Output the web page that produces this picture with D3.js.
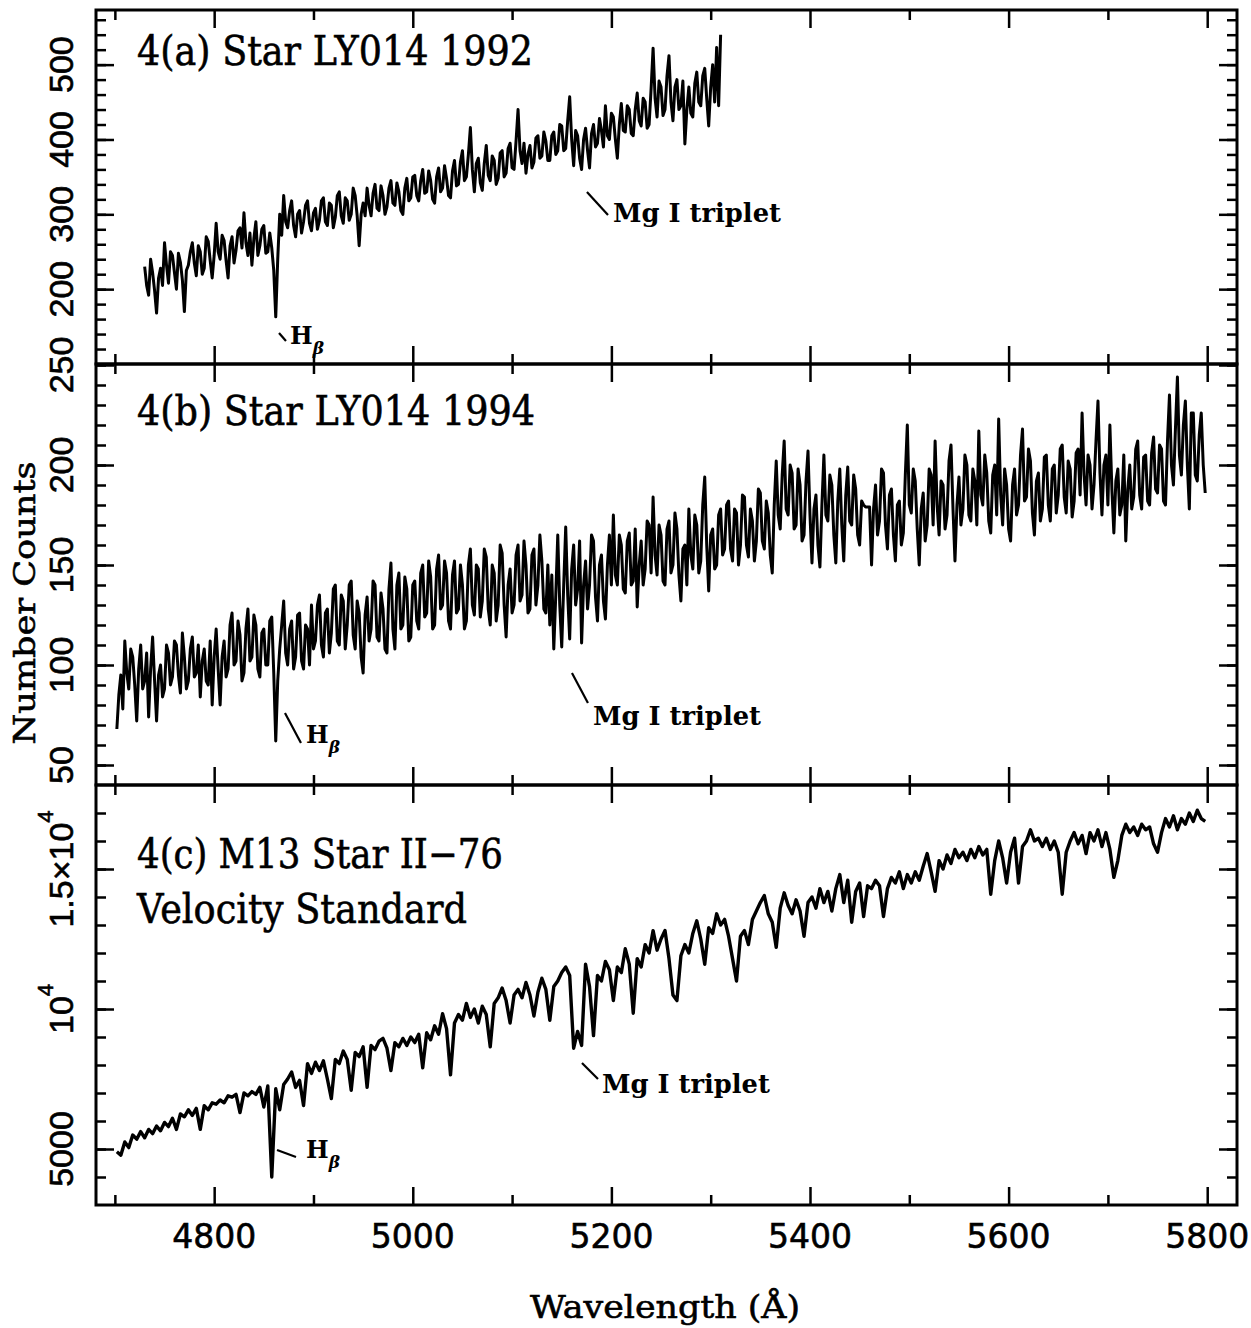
<!DOCTYPE html>
<html>
<head>
<meta charset="utf-8">
<script src="https://cdn.jsdelivr.net/npm/d3@7"></script>
<style>
  body { margin: 0; background: #fff; }
</style>
</head>
<body>
<div id="chart"></div>
<script>
// 4(a) LY014 1992, counts in 2 A bins starting at 4730 A
const startA = 4730;
const stepA = 2;
const countsA = [
  230, 205, 192, 240, 222, 198, 168, 215, 228, 205, 262, 232, 208, 250, 245, 222, 200, 248, 236, 212,
  170, 225, 232, 250, 262, 235, 218, 258, 250, 220, 228, 270, 264, 238, 215, 245,
  288, 250, 240, 272, 265, 238, 215, 258, 270, 235, 252, 278, 282, 255, 302, 262, 245, 275, 232, 268,
  290, 245, 258, 280, 285, 248, 250, 275, 255, 225, 163, 240, 300, 272, 325, 290, 282, 305, 318, 285,
  270, 300, 305, 275, 290, 312, 318, 288, 278, 302,
  308, 280, 292, 318, 322, 290, 285, 315, 312, 282, 296, 325, 330, 298, 288, 322, 318, 292, 300, 335,
  325, 298, 258, 300, 315, 298, 335, 312, 298, 328, 340, 308, 305, 338, 325, 300, 310, 335, 345, 315,
  312, 342, 330, 305, 300, 335, 348, 318, 322, 350,
  352, 325, 318, 345, 360, 328, 330, 358, 345, 320, 315, 350, 362, 330, 335, 365, 348, 325, 322, 358,
  372, 338, 340, 370, 385, 345, 350, 380, 416, 360, 330, 368, 375, 342, 332, 368, 392, 352, 345, 378,
  372, 340, 348, 382, 385, 350, 355, 388, 395, 362,
  360, 398, 440, 385, 368, 395, 355, 380, 392, 362, 370, 402, 405, 375, 378, 410, 398, 372, 372, 405,
  410, 380, 385, 420, 418, 385, 388, 425, 457, 400, 365, 412, 405, 375, 360, 400, 415, 385, 362, 408,
  420, 390, 395, 428, 412, 390, 445, 405, 400, 435,
  430, 400, 375, 420, 448, 412, 410, 445, 440, 408, 405, 440, 462, 425, 418, 455, 450, 415, 420, 468,
  522, 455, 430, 478, 470, 432, 440, 485, 512, 450, 425, 470, 480, 440, 445, 478, 394, 440, 470, 435,
  430, 475, 490, 450, 445, 485, 495, 455, 418, 470, 500, 450, 523, 445, 540
];

// 4(b) LY014 1994, 2 A bins starting at 4702 A
const startB = 4702;
const stepB = 2;
const countsB = [
  68, 85, 95, 78, 112, 96, 88, 108, 104, 90, 72, 98, 110, 88, 92, 106, 74, 98, 114, 92,
  72, 95, 100, 84, 88, 110, 106, 90, 94, 112, 110, 95, 86, 116, 104, 88, 92, 108, 114, 94,
  96, 110, 84, 102, 108, 92, 90, 112, 80, 104,
  118, 98, 80, 104, 112, 94, 98, 120, 126, 100, 102, 122, 115, 92, 96, 118, 128, 102, 104, 125,
  120, 98, 94, 116, 118, 100, 100, 122, 124, 96, 62, 92, 108, 120, 132, 106, 100, 118, 122, 98,
  104, 125, 126, 102, 98, 120, 118, 100, 130, 108,
  112, 130, 135, 110, 104, 126, 128, 106, 116, 138, 140, 112, 110, 135, 132, 108, 120, 140, 142, 115,
  108, 132, 126, 104, 96, 125, 134, 112, 118, 142, 140, 114, 112, 136, 128, 108, 106, 138, 151, 118,
  108, 140, 146, 118, 120, 144, 138, 112, 114, 140,
  142, 122, 118, 146, 150, 124, 126, 152, 144, 118, 120, 148, 155, 128, 130, 152, 146, 122, 118, 145,
  152, 126, 128, 150, 140, 118, 122, 150, 158, 130, 125, 150, 148, 124, 132, 158, 154, 128, 120, 150,
  146, 122, 130, 160, 156, 130, 114, 140, 148, 126,
  130, 155, 160, 132, 135, 162, 150, 126, 128, 155, 158, 130, 140, 165, 152, 128, 126, 150, 120, 145,
  108, 135, 165, 130, 109, 140, 169, 135, 113, 148, 160, 130, 138, 162, 111, 140, 152, 128, 140, 165,
  162, 134, 122, 150, 155, 132, 123, 150, 165, 140,
  175, 145, 140, 165, 160, 138, 136, 162, 166, 140, 142, 168, 129, 150, 162, 140, 148, 172, 170, 146,
  184, 155, 145, 170, 165, 142, 140, 168, 172, 146, 150, 176, 168, 145, 132, 158, 160, 140, 178, 155,
  148, 175, 170, 146, 152, 180, 194, 160, 137, 165,
  168, 148, 150, 175, 178, 155, 158, 180, 182, 158, 152, 178, 176, 150, 160, 185, 184, 160, 154, 178,
  172, 152, 162, 188, 186, 162, 158, 182, 176, 155, 146, 180, 202, 175, 168, 195, 212, 178, 175, 200,
  196, 168, 170, 198, 190, 162, 165, 192, 207, 175,
  151, 178, 185, 160, 149, 180, 205, 175, 172, 195, 190, 165, 151, 182, 198, 170, 152, 185, 199, 172,
  170, 195, 188, 165, 160, 182, 180, 179, 179, 179, 150, 178, 190, 165, 172, 198, 196, 170, 158, 185,
  188, 165, 152, 180, 182, 160, 166, 195, 220, 180,
  176, 198, 192, 168, 150, 178, 186, 162, 170, 198, 195, 170, 212, 180, 165, 192, 190, 168, 175, 202,
  210, 178, 152, 180, 194, 170, 178, 205, 200, 175, 172, 198, 192, 170, 217, 185, 180, 205, 196, 172,
  166, 195, 200, 175, 223, 185, 170, 198, 190, 168,
  162, 190, 198, 175, 180, 205, 218, 182, 184, 208, 202, 176, 165, 192, 196, 172, 178, 204, 205, 180,
  172, 198, 200, 176, 185, 208, 210, 184, 176, 202, 198, 174, 182, 206, 208, 185, 226, 195, 180, 205,
  200, 178, 190, 212, 232, 196, 175, 200, 205, 180,
  220, 188, 166, 192, 198, 175, 180, 205, 162, 188, 200, 178, 184, 208, 212, 185, 178, 204, 205, 182,
  180, 206, 214, 188, 186, 210, 208, 182, 180, 212, 235, 200, 190, 218, 244, 205, 195, 220, 232, 200,
  178, 226, 226, 195, 192, 215, 226, 200, 186
];

// 4(c) M13 II-76, 4 A bins starting at 4702 A
const startC = 4702;
const stepC = 4;
const countsC = [
  4900, 4780, 5250, 5050, 5500, 5350, 5620, 5400, 5700, 5550, 5820, 5650, 5950, 5800, 6100, 5700, 6250, 6150, 6400, 6200, 6450, 5700, 6550, 6400, 6650,
  6600, 6750, 6650, 6900, 6850, 6950, 6300, 7000, 6900, 7050, 6950, 7200, 6500, 7250, 4000, 7150, 6400, 7300, 7500, 7750, 7200, 7450, 6550, 8050, 7700,
  8100, 7800, 8150, 7500, 6800, 8200, 8050, 8500, 8200, 7100, 8450, 8300, 8650, 7200, 8700, 8550, 8850, 8950, 8600, 7800, 8800, 8650, 8950, 8700, 9000,
  8800, 9100, 7900, 9150, 8900, 9400, 9100, 9830, 9300, 7650, 9500, 9800, 9600, 10200, 9700, 10000, 9500, 10100, 9800, 8650, 10200, 10400, 10750, 10300, 9500,
  10500, 10700, 10400, 10950, 10500, 9750, 10600, 11100, 10700, 9600, 10800, 11000, 11300, 11500, 11200, 8600, 9200, 8700, 11600, 10800, 9050, 11200, 11000, 11700, 11400,
  10300, 11500, 11300, 12150, 11600, 9850, 11800, 11500, 12300, 12000, 12800, 12100, 12500, 12800, 11800, 10500, 10300, 11900, 12300, 12000, 12700, 13150, 12500, 11600, 12900,
  12700, 13400, 13000, 13200, 12600, 11800, 11000, 12600, 12800, 12300, 13200, 13500, 13800, 14050, 13400, 13100, 12200, 13600, 14150, 13700, 13400, 13900, 13500, 12600, 13800,
  14000, 13600, 14300, 13800, 14200, 13500, 14300, 14800, 13800, 14600, 13100, 14200, 14500, 13300, 14400, 14300, 14600, 14400, 13300, 14300, 14700, 14500, 14900, 14300, 14800,
  14500, 14900, 14600, 15100, 15550, 14900, 14200, 15300, 15000, 15500, 15200, 15700, 15400, 15600, 15300, 15700, 15400, 15800, 15500, 15700, 14100, 15300, 16000, 15400, 14500,
  15600, 16100, 14500, 15800, 16000, 16400, 16000, 16100, 15800, 16100, 15700, 16000, 15600, 14100, 15600, 16000, 16300, 15900, 16200, 15550, 16300, 16000, 16400, 15800, 16300,
  15700, 14700, 15300, 16200, 16600, 16300, 16500, 16200, 16600, 16400, 16500, 15900, 15600, 16300, 16800, 16500, 16900, 16400, 16800, 16600, 17000, 16700, 17100, 16800, 16700
];

const xMajorTicks = [4800, 5000, 5200, 5400, 5600, 5800];
const xMinorTicks = [4700, 4900, 5100, 5300, 5500, 5700];
const yTicksA = [200, 300, 400, 500];
const yTicksB = [50, 100, 150, 200, 250];
const yTicksC = [5000, 10000, 15000];
const yLabelsC = [['5000', ''], ['10', '4'], ['1.5×10', '4']];

const W = 1251;
const H = 1328;
const left = 96;
const right = 1237;

const x = d3.scaleLinear().domain([4681, 5830]).range([left, right]);

const panels = [
  {
    top: 10, bottom: 364, domain: [100, 573], minorStep: 20, lw: 3,
    start: startA, step: stepA, counts: countsA, ticks: yTicksA,
    labels: yTicksA.map((v) => [String(v), '']),
    titles: [{ text: '4(a) Star LY014 1992', y: 65, len: 396 }],
    hb: { leader: [[4865.3, 141.4], [4872.3, 130.7]], at: [4876.4, 126.7] },
    mg: { leader: [[5175.4, 329.8], [5196.6, 299.1]], at: [5201.6, 289.7] }
  },
  {
    top: 364, bottom: 785, domain: [40, 250.5], minorStep: 10, lw: 3,
    start: startB, step: stepB, counts: countsB, ticks: yTicksB,
    labels: yTicksB.map((v) => [String(v), '']),
    titles: [{ text: '4(b) Star LY014 1994', y: 425, len: 398 }],
    hb: { leader: [[4871.3, 76], [4887.4, 61]], at: [4892.5, 61] },
    mg: { leader: [[5160.3, 96], [5176.4, 81]], at: [5181.5, 70] }
  },
  {
    top: 785, bottom: 1205, domain: [3000, 18000], minorStep: 1000, lw: 3.4,
    start: startC, step: stepC, counts: countsC, ticks: yTicksC,
    labels: yLabelsC,
    titles: [
      { text: '4(c) M13 Star II\u221276', y: 868, len: 366 },
      { text: 'Velocity Standard', y: 923, len: 330 }
    ],
    hb: { leader: [[4863.3, 4964], [4882.4, 4714]], at: [4892.5, 4679] },
    mg: { leader: [[5170.4, 8071], [5186.5, 7500]], at: [5190.5, 7000] }
  }
];

const svg = d3
  .select('#chart')
  .append('svg')
  .attr('width', W)
  .attr('height', H)
  .style('background-color', '#fff');

const addTicks = (g, axis, transform) => {
  const a = g.append('g').attr('transform', transform).call(axis);
  a.select('.domain').remove();
  a.selectAll('.tick text').remove();
  a.selectAll('.tick line').attr('stroke', '#000').attr('stroke-width', 2.5);
};

panels.forEach((p, idx) => {
  const y = d3.scaleLinear().domain(p.domain).range([p.bottom, p.top]);
  const g = svg.append('g');

  const yMinor = d3
    .range(Math.ceil(p.domain[0] / p.minorStep) * p.minorStep, p.domain[1], p.minorStep)
    .filter((v) => v > p.domain[0] && v < p.domain[1]);
  const yMajor = p.ticks.filter((v) => v > p.domain[0] && v < p.domain[1]);

  addTicks(g, d3.axisTop(x).tickValues(xMajorTicks).tickSize(-18), `translate(0,${p.top})`);
  addTicks(g, d3.axisTop(x).tickValues(xMinorTicks).tickSize(-10), `translate(0,${p.top})`);
  addTicks(g, d3.axisBottom(x).tickValues(xMajorTicks).tickSize(-18), `translate(0,${p.bottom})`);
  addTicks(g, d3.axisBottom(x).tickValues(xMinorTicks).tickSize(-10), `translate(0,${p.bottom})`);
  addTicks(g, d3.axisLeft(y).tickValues(yMajor).tickSize(-18), `translate(${left},0)`);
  addTicks(g, d3.axisLeft(y).tickValues(yMinor).tickSize(-10), `translate(${left},0)`);
  addTicks(g, d3.axisRight(y).tickValues(yMajor).tickSize(-18), `translate(${right},0)`);
  addTicks(g, d3.axisRight(y).tickValues(yMinor).tickSize(-10), `translate(${right},0)`);

  g.append('rect')
    .attr('x', left)
    .attr('y', p.top)
    .attr('width', right - left)
    .attr('height', p.bottom - p.top)
    .attr('fill', 'none')
    .attr('stroke', '#000')
    .attr('stroke-width', 3);

  // spectrum
  const pts = p.counts.map((v, i) => [p.start + i * p.step, v]);
  const line = d3
    .line()
    .x((d) => x(d[0]))
    .y((d) => y(d[1]));
  g.append('path')
    .datum(pts)
    .attr('d', line)
    .attr('fill', 'none')
    .attr('stroke', '#000')
    .attr('stroke-width', p.lw)
    .attr('stroke-linejoin', 'round');

  // rotated y tick labels
  const lab = g
    .selectAll('text.ylab')
    .data(p.ticks.map((v, i) => ({ v, t: p.labels[i] })))
    .enter()
    .append('text')
    .attr('class', 'ylab')
    .attr('transform', (d) => `translate(73,${y(d.v)}) rotate(-90)`)
    .attr('text-anchor', 'middle')
    .attr('font-family', 'Liberation Sans, Arial, sans-serif')
    .attr('font-size', 34)
    .attr('fill', '#000')
    .attr('stroke', '#000')
    .attr('stroke-width', 0.6);
  lab.append('tspan').text((d) => d.t[0]);
  lab
    .filter((d) => d.t[1])
    .append('tspan')
    .attr('font-size', 22)
    .attr('dy', -20)
    .text((d) => d.t[1]);

  // panel titles
  p.titles.forEach((t) => {
    g.append('text')
      .attr('x', 137)
      .attr('y', t.y)
      .attr('font-family', 'DejaVu Serif, serif')
      .attr('font-size', 41)
      .attr('textLength', t.len)
      .attr('lengthAdjust', 'spacingAndGlyphs')
      .attr('fill', '#000')
      .attr('stroke', '#000')
      .attr('stroke-width', 0.6)
      .text(t.text);
  });

  // line annotations
  [p.hb, p.mg].forEach((a) => {
    g.append('line')
      .attr('x1', x(a.leader[0][0]))
      .attr('y1', y(a.leader[0][1]))
      .attr('x2', x(a.leader[1][0]))
      .attr('y2', y(a.leader[1][1]))
      .attr('stroke', '#000')
      .attr('stroke-width', 2.2);
  });

  const hb = g
    .append('text')
    .attr('x', x(p.hb.at[0]))
    .attr('y', y(p.hb.at[1]))
    .attr('font-family', 'DejaVu Serif, serif')
    .attr('font-weight', 'bold')
    .attr('font-size', 24)
    .attr('fill', '#000');
  hb.append('tspan').text('H');
  hb.append('tspan')
    .attr('font-size', 17)
    .attr('font-style', 'italic')
    .attr('dy', 10)
    .text('β');

  g.append('text')
    .attr('x', x(p.mg.at[0]))
    .attr('y', y(p.mg.at[1]))
    .attr('font-family', 'DejaVu Serif, serif')
    .attr('font-weight', 'bold')
    .attr('font-size', 26)
    .attr('textLength', 168)
    .attr('lengthAdjust', 'spacingAndGlyphs')
    .attr('fill', '#000')
    .text('Mg I triplet');

  // x tick labels under the last panel only
  if (idx === panels.length - 1) {
    g.selectAll('text.xlab')
      .data(xMajorTicks)
      .enter()
      .append('text')
      .attr('class', 'xlab')
      .attr('x', (d) => x(d))
      .attr('y', 1248)
      .attr('text-anchor', 'middle')
      .attr('font-family', 'DejaVu Sans, sans-serif')
      .attr('font-size', 33)
      .attr('fill', '#000')
      .attr('stroke', '#000')
      .attr('stroke-width', 0.6)
      .text((d) => d);
  }
});

svg.append('text')
  .attr('transform', 'translate(35,603) rotate(-90)')
  .attr('text-anchor', 'middle')
  .attr('font-family', 'DejaVu Serif, serif')
  .attr('font-size', 30)
  .attr('textLength', 283)
  .attr('lengthAdjust', 'spacingAndGlyphs')
  .attr('fill', '#000')
  .attr('stroke', '#000')
  .attr('stroke-width', 0.6)
  .text('Number Counts');

svg.append('text')
  .attr('x', 665)
  .attr('y', 1318)
  .attr('text-anchor', 'middle')
  .attr('font-family', 'DejaVu Serif, serif')
  .attr('font-size', 32)
  .attr('textLength', 270)
  .attr('lengthAdjust', 'spacingAndGlyphs')
  .attr('fill', '#000')
  .attr('stroke', '#000')
  .attr('stroke-width', 0.6)
  .text('Wavelength (Å)');
</script>
</body>
</html>
